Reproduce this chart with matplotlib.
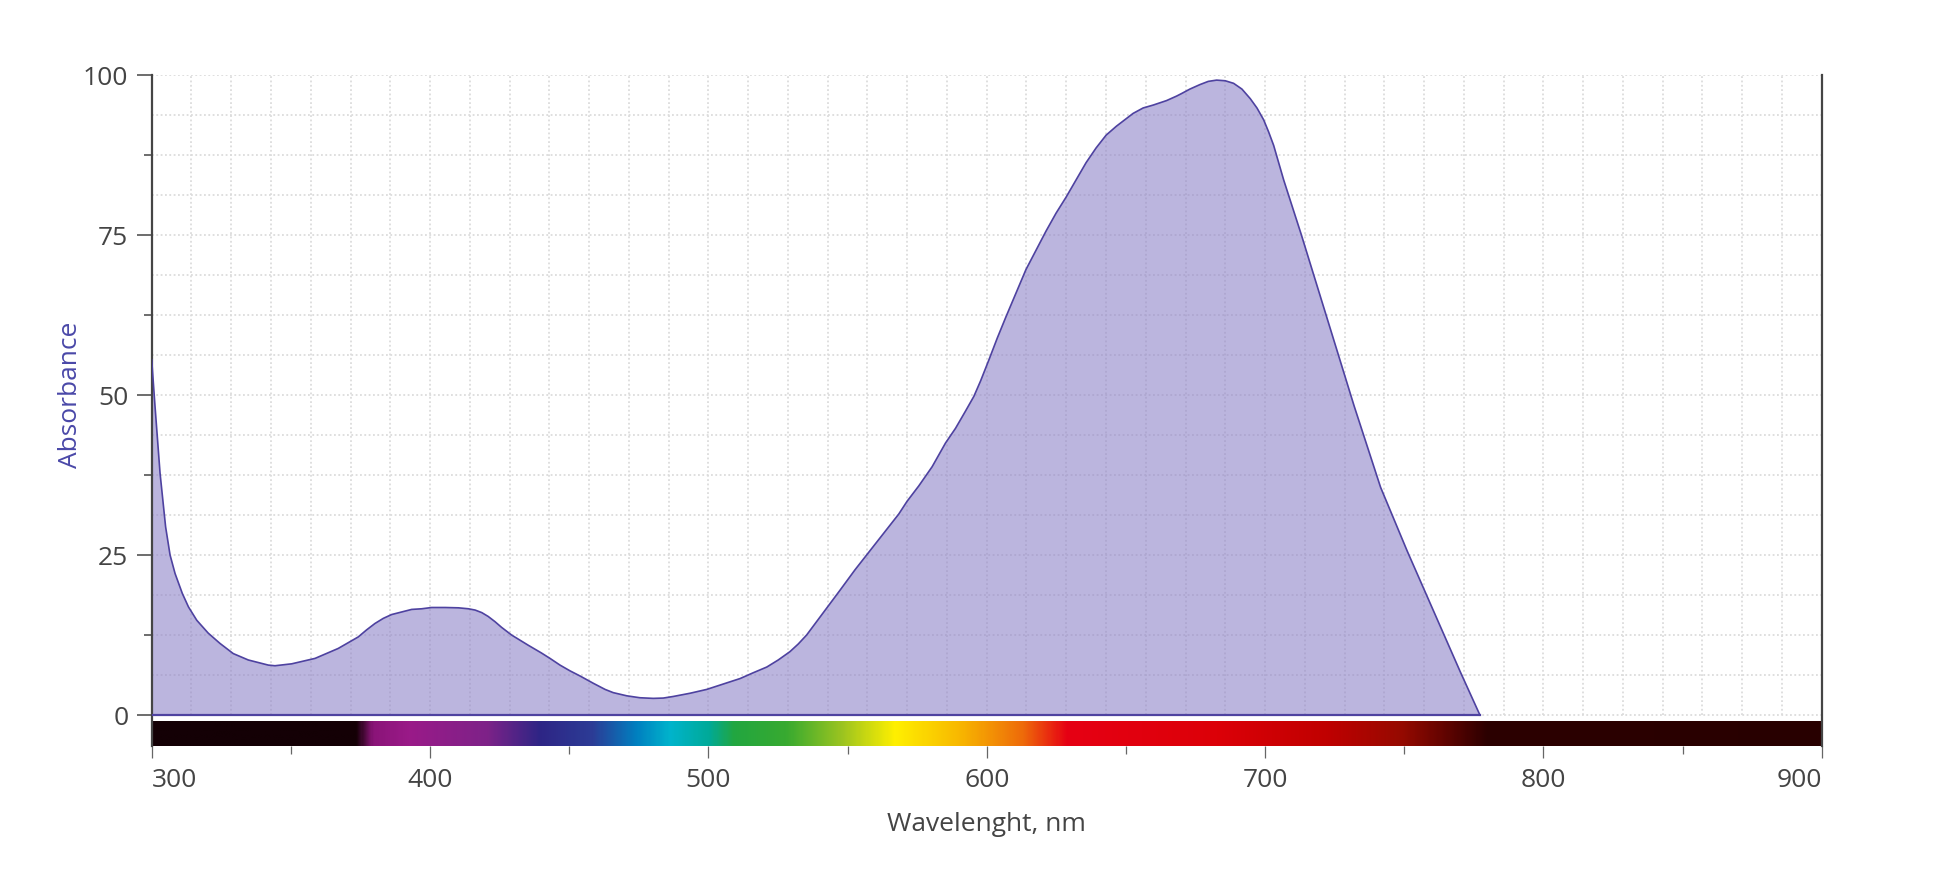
import numpy as np
import matplotlib
matplotlib.use("Agg")
import matplotlib.pyplot as plt
from matplotlib.colors import LinearSegmentedColormap

# ---------------- data ----------------
wavelength = [300.0, 301.2, 303.0, 305.0, 306.6, 308.4, 311.0, 313.2, 316.2, 320.3,
              324.5, 329.3, 334.7, 341.9, 344.3, 350.3, 358.7, 367.0, 370.6, 374.2,
              377.2, 380.2, 383.2, 386.2, 389.8, 393.4, 397.0, 400.6, 405.4, 410.2,
              413.8, 416.2, 418.6, 420.9, 423.3, 425.7, 429.3, 435.3, 440.0, 443.1,
              446.7, 450.3, 453.9, 458.7, 462.9, 465.8, 470.7, 475.4, 480.2, 483.8,
              487.4, 493.4, 499.4, 505.4, 511.4, 516.1, 521.0, 525.1, 529.3, 532.3,
              535.3, 538.9, 542.5, 547.3, 552.7, 568.4, 571.4, 575.6, 580.4, 585.2,
              588.8, 592.4, 595.4, 597.8, 600.8, 603.8, 606.9, 610.5, 614.1, 617.7,
              621.3, 624.9, 628.5, 632.1, 635.7, 639.3, 642.9, 646.6, 652.6, 656.2,
              659.8, 664.6, 668.2, 670.0, 673.0, 676.6, 679.6, 682.6, 685.7, 688.7,
              691.7, 694.7, 697.1, 699.5, 701.3, 703.1, 706.7, 713.0, 722.5,
              732.0, 741.5, 751.1, 760.6, 770.1, 777.2]
absorbance = [55.5, 48.2, 37.8, 29.4, 25.0, 22.1, 19.0, 16.9, 14.8, 12.8,
              11.2, 9.6, 8.6, 7.8, 7.7, 8.0, 8.85, 10.4, 11.3, 12.2,
              13.3, 14.3, 15.1, 15.7, 16.1, 16.5, 16.6, 16.8, 16.8, 16.75,
              16.6, 16.4, 16.0, 15.4, 14.6, 13.7, 12.5, 10.9, 9.7, 8.85,
              7.8, 6.9, 6.1, 4.95, 4.0, 3.5, 3.0, 2.7, 2.6, 2.65,
              2.9, 3.4, 4.0, 4.85, 5.7, 6.6, 7.5, 8.6, 9.9, 11.1,
              12.5, 14.6, 16.7, 19.5, 22.7, 31.4, 33.4, 35.8, 38.8, 42.5,
              44.8, 47.5, 49.8, 52.2, 55.5, 58.9, 62.2, 65.9, 69.6, 72.6,
              75.6, 78.4, 80.9, 83.6, 86.3, 88.6, 90.6, 92.0, 94.0, 94.85,
              95.3, 96.0, 96.7, 97.1, 97.8, 98.5, 99.0, 99.2, 99.1, 98.7,
              97.8, 96.3, 94.85, 93.0, 91.1, 89.0, 83.6, 75.1, 61.7,
              48.3, 35.6, 25.6, 16.2, 6.8, 0.0]

x_ticks = [300, 400, 500, 600, 700, 800, 900]
x_minor = [350, 450, 550, 650, 750, 850]
y_ticks = [0, 25, 50, 75, 100]
y_minor = [12.5, 37.5, 62.5, 87.5]

# visible-spectrum strip (wavelength stops and colours)
spectrum_nm = [300, 373, 379, 392, 420, 439, 458, 474, 486, 500, 509, 528, 548, 567,
               590, 613, 629, 683, 722, 749, 764, 780, 900]
spectrum_colors = ["#140005", "#140005", "#8a1478", "#9a1a88", "#7e2288", "#2e2585",
                   "#2c3c96", "#0080c0", "#00b4cc", "#00aa98", "#22a640", "#38aa30",
                   "#9cc420", "#fff000", "#f8b800", "#ee6a0a", "#e60014", "#dc0008",
                   "#c00000", "#960a00", "#640400", "#2c0000", "#280000"]

# ---------------- figure ----------------
plt.rcParams["font.family"] = ["Open Sans", "DejaVu Sans"]
fig = plt.figure(figsize=(19.4, 8.8), dpi=100)
ax = fig.add_axes([151.7 / 1940, 1 - 746 / 880, 1670 / 1940, 671 / 880])

ymin = -4.84
# background square grid (dotted)
grid_color = "#dcdcdc"
vx = np.linspace(300, 900, 43)[1:-1]
ax.vlines(vx, 0, 100, colors=grid_color, linestyles=(0, (1, 1.4)), lw=1.3, zorder=0)
hy = np.arange(0, 100.01, 6.25)
ax.hlines(hy, 300, 900, colors=grid_color, linestyles=(0, (1, 1.4)), lw=1.3, zorder=0)

# area
fill_rgb = (143 / 255, 132 / 255, 200 / 255)
ax.fill_between(wavelength, absorbance, 0, facecolor=fill_rgb, alpha=0.6, lw=0, zorder=2)
line_color = "#4e42a0"
ax.plot(wavelength, absorbance, color=line_color, lw=1.2, zorder=3,
        solid_joinstyle="round")
ax.plot([wavelength[0], wavelength[-1]], [0, 0], color=line_color, lw=1.6, zorder=3)

# spectrum strip
pos = [(v - 300) / 600 for v in spectrum_nm]
cmap = LinearSegmentedColormap.from_list("spec", list(zip(pos, spectrum_colors)), N=1024)
grad = np.linspace(0, 1, 1200).reshape(1, -1)
ax.imshow(grad, cmap=cmap, aspect="auto", extent=[300, 900, ymin, -1.05],
          interpolation="bilinear", zorder=1)

ax.set_xlim(300, 900)
ax.set_ylim(ymin, 100)

# spines
for s in ["top", "bottom"]:
    ax.spines[s].set_visible(False)
for s in ["left", "right"]:
    ax.spines[s].set_color("#454545")
    ax.spines[s].set_linewidth(1.6)

ax.set_xticks(x_ticks)
ax.set_xticks(x_minor, minor=True)
ax.set_yticks(y_ticks)
ax.set_yticks(y_minor, minor=True)
ax.set_xticklabels([str(v) for v in x_ticks])
ax.set_yticklabels([str(v) for v in y_ticks])

fs = 19
ax.tick_params(axis="y", which="major", length=10.8, width=1.1, color="#454545",
               labelsize=fs, labelcolor="#444444", pad=6)
ax.tick_params(axis="y", which="minor", length=5.5, width=1.1, color="#454545")
ax.tick_params(axis="x", which="major", length=8.6, width=0.9, color="#666666",
               labelsize=fs, labelcolor="#444444", pad=7.5)
ax.tick_params(axis="x", which="minor", length=5.5, width=0.9, color="#666666")

labels = ax.get_xticklabels()
labels[0].set_horizontalalignment("left")
labels[-1].set_horizontalalignment("right")

ax.set_xlabel("Wavelenght, nm", fontsize=fs, color="#444444")
ax.xaxis.set_label_coords(0.5, (746 - 824) / 671)
ax.xaxis.label.set_verticalalignment("center")
ax.set_ylabel("Absorbance", fontsize=fs, color="#4a48a8")
ax.yaxis.set_label_coords((71 - 151.7) / 1670, (746 - 395) / 671)
ax.yaxis.label.set_verticalalignment("center")

ax.set_facecolor("white")
fig.savefig("out.png", dpi=100, facecolor="white")
